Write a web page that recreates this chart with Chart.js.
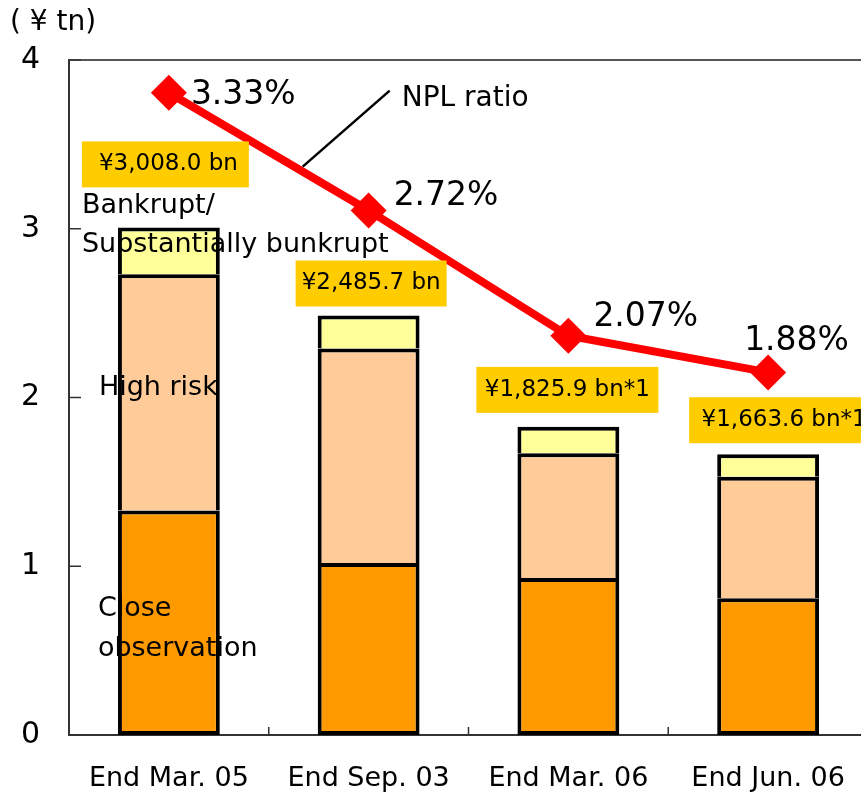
<!DOCTYPE html>
<html>
<head>
<meta charset="utf-8">
<script src="https://cdn.jsdelivr.net/npm/chart.js@4"></script>
<style>
  html, body { margin: 0; padding: 0; background: #fff; overflow: hidden; }
  #wrap { width: 886px; height: 796px; }
</style>
</head>
<body>
<div id="wrap"><canvas id="myChart" width="886" height="796"></canvas></div>
<script>
const categories = ["End Mar. 05", "End Sep. 03", "End Mar. 06", "End Jun. 06"];
const closeObservation = [1.33, 1.02, 0.93, 0.81];
const highRisk = [1.40, 1.27, 0.74, 0.72];
const bankrupt = [0.278, 0.196, 0.156, 0.134];
const nplRatio = [3.33, 2.72, 2.07, 1.88];
const nplLabels = ["3.33%", "2.72%", "2.07%", "1.88%"];
const totalLabels = ["¥3,008.0 bn", "¥2,485.7 bn", "¥1,825.9 bn*1", "¥1,663.6 bn*1"];
const yTicks = [0, 1, 2, 3, 4];

// label placement (pixels, relative to the bar / point they belong to)
const boxPos = [
  { dx: -87, w: 167, dy: -40 },
  { dx: -73, w: 151, dy: -9 },
  { dx: -92, w: 182, dy: -14 },
  { dx: -79, w: 190, dy: -11 },
];
const pctPos = [[22, 3], [25, -14], [25, -18], [-24, -31]];
const FONT = "'DejaVu Sans', sans-serif";

Chart.defaults.font.family = FONT;
Chart.defaults.color = "#000";

const extras = {
  id: "extras",
  afterDraw(chart) {
    const ctx = chart.ctx;
    const area = chart.chartArea;
    const x = chart.scales.x;
    const y = chart.scales.y;
    ctx.save();

    // top frame line
    ctx.strokeStyle = "#555";
    ctx.lineWidth = 2;
    ctx.beginPath();
    ctx.moveTo(area.left, area.top);
    ctx.lineTo(area.right, area.top);
    ctx.stroke();

    // inward ticks
    ctx.strokeStyle = "#333";
    ctx.lineWidth = 1.5;
    yTicks.forEach((v) => {
      const py = y.getPixelForValue(v);
      ctx.beginPath();
      ctx.moveTo(area.left, py);
      ctx.lineTo(area.left + 12, py);
      ctx.stroke();
    });
    for (let i = 0; i < categories.length; i++) {
      const px = (x.getPixelForValue(i) + x.getPixelForValue(i + 1)) / 2;
      ctx.beginPath();
      ctx.moveTo(px, area.bottom);
      ctx.lineTo(px, area.bottom - 8);
      ctx.stroke();
    }

    // unit
    ctx.fillStyle = "#000";
    ctx.font = "28px " + FONT;
    ctx.textBaseline = "middle";
    ctx.textAlign = "left";
    ctx.fillText("( ¥ tn)", 10, 23);

    const closeMeta = chart.getDatasetMeta(0).data;
    const highMeta = chart.getDatasetMeta(1).data;
    const bankMeta = chart.getDatasetMeta(2).data;
    const lineMeta = chart.getDatasetMeta(3).data;

    // segment names on first bar
    ctx.font = "27px " + FONT;
    ctx.textBaseline = "alphabetic";
    const b0 = bankMeta[0];
    const bMid = (b0.y + b0.base) / 2;
    ctx.fillText("Bankrupt/", b0.x - 87, bMid - 38);
    ctx.fillText("Substantially bunkrupt", b0.x - 87, bMid + 1);
    const h0 = highMeta[0];
    ctx.fillText("High risk", h0.x - 70, (h0.y + h0.base) / 2 + 3);
    const c0 = closeMeta[0];
    const cMid = (c0.y + c0.base) / 2;
    ctx.fillText("Close", c0.x - 71, cMid - 7);
    ctx.fillText("observation", c0.x - 71, cMid + 33);

    // total boxes
    ctx.font = "23px " + FONT;
    ctx.textBaseline = "middle";
    ctx.textAlign = "center";
    bankMeta.forEach((el, i) => {
      const p = boxPos[i];
      const left = el.x + p.dx;
      const bottom = el.y + p.dy;
      ctx.fillStyle = "#FFCC00";
      ctx.fillRect(left, bottom - 46, p.w, 46);
      ctx.fillStyle = "#000";
      ctx.fillText(totalLabels[i], left + p.w / 2 + (i === 0 ? 3 : 0), bottom - 23);
    });

    // NPL ratio labels
    ctx.font = "33px " + FONT;
    ctx.textAlign = "left";
    lineMeta.forEach((pt, i) => {
      ctx.fillText(nplLabels[i], pt.x + pctPos[i][0], pt.y + pctPos[i][1]);
    });

    // leader line + series name
    const p0 = lineMeta[0], p1 = lineMeta[1];
    const sx = p0.x + (p1.x - p0.x) * 0.67;
    const sy = p0.y + (p1.y - p0.y) * 0.67 - 5;
    ctx.strokeStyle = "#000";
    ctx.lineWidth = 2.5;
    ctx.beginPath();
    ctx.moveTo(sx, sy);
    ctx.lineTo(sx + 87, sy - 76);
    ctx.stroke();
    ctx.font = "28px " + FONT;
    ctx.fillText("NPL ratio", sx + 99, sy - 68);

    ctx.restore();
  },
};

const barBase = {
  borderColor: "#000",
  borderWidth: 4,
  categoryPercentage: 1,
  barPercentage: 0.51,
  order: 1,
  yAxisID: "y",
};

new Chart(document.getElementById("myChart"), {
  type: "bar",
  data: {
    labels: categories,
    datasets: [
      { ...barBase, label: "Close observation", data: closeObservation, backgroundColor: "#FF9900", borderSkipped: false },
      { ...barBase, label: "High risk", data: highRisk, backgroundColor: "#FFCC99", borderSkipped: "start" },
      { ...barBase, label: "Bankrupt/Substantially bunkrupt", data: bankrupt, backgroundColor: "#FFFF99", borderSkipped: "start" },
      {
        type: "line",
        label: "NPL ratio",
        data: nplRatio,
        yAxisID: "y2",
        borderColor: "#FF0000",
        backgroundColor: "#FF0000",
        borderWidth: 8,
        pointStyle: "rectRot",
        pointRadius: 18,
        pointBorderWidth: 0,
        tension: 0,
        order: 0,
      },
    ],
  },
  options: {
    responsive: false,
    animation: false,
    layout: { padding: { top: 60, right: 0, left: 0, bottom: 0 } },
    plugins: { legend: { display: false }, tooltip: { enabled: false } },
    scales: {
      x: {
        stacked: true,
        grid: { display: false, drawTicks: false },
        border: { color: "#333", width: 2 },
        ticks: { font: { size: 27 }, color: "#000", padding: 28 },
        afterFit: (s) => { s.height = 61; },
      },
      y: {
        stacked: true,
        min: 0,
        max: 4,
        grid: { display: false, drawTicks: false },
        border: { color: "#333", width: 2 },
        ticks: { stepSize: 1, font: { size: 30 }, color: "#000", padding: 29 },
        afterFit: (s) => { s.width = 69; },
      },
      y2: { display: false, min: 0, max: 3.5, position: "right" },
    },
  },
  plugins: [extras],
});
</script>
</body>
</html>
